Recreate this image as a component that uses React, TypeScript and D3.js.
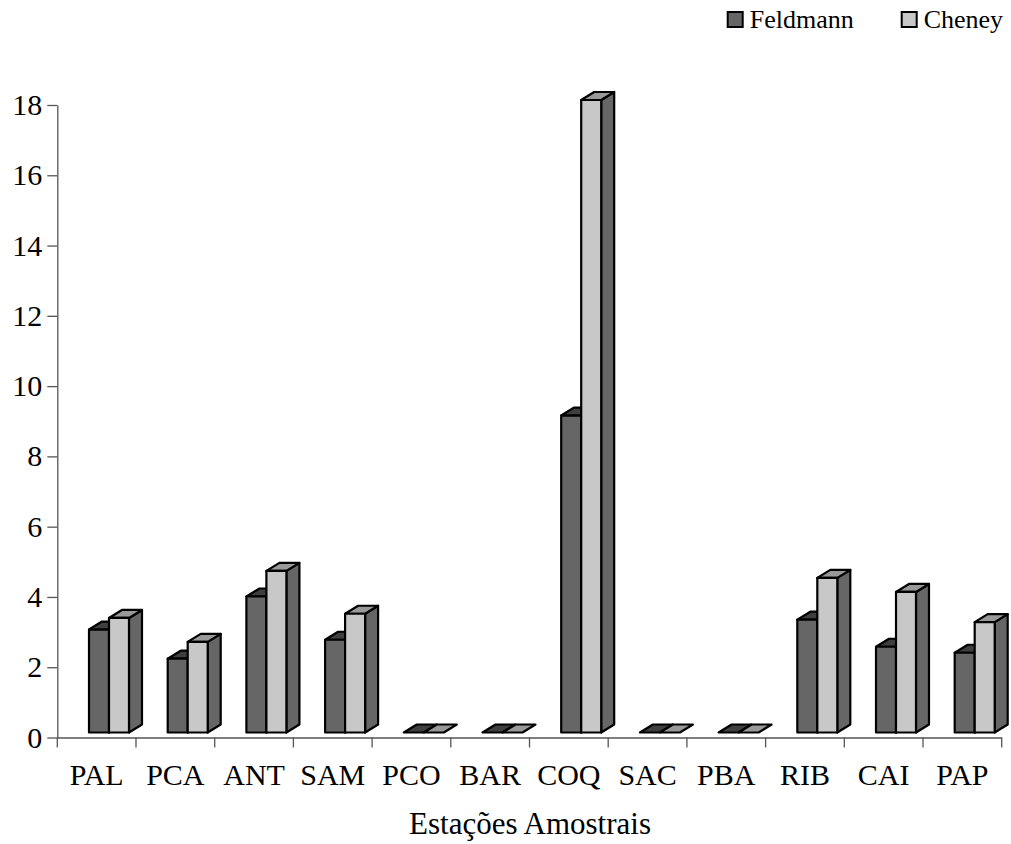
import React, { useEffect, useRef } from 'react';
import * as d3 from 'd3';

// chart data
const stations = ['PAL', 'PCA', 'ANT', 'SAM', 'PCO', 'BAR', 'COQ', 'SAC', 'PBA', 'RIB', 'CAI', 'PAP'];
const seriesNames = ['Feldmann', 'Cheney'];
const feldmann = [2.93, 2.1, 3.87, 2.64, 0, 0, 9.02, 0, 0, 3.21, 2.44, 2.27];
const cheney = [3.26, 2.58, 4.6, 3.38, 0, 0, 18.0, 0, 0, 4.4, 4.0, 3.14];
const yTicks = [0, 2, 4, 6, 8, 10, 12, 14, 16, 18];
const xTitle = 'Estações Amostrais';

const W = 1011;
const H = 844;
const FONT = "'Liberation Serif', 'Times New Roman', Times, serif";

// face colours per series: front, side, top
const faces = [
  { front: '#666666', side: '#666666', top: '#3f3f3f' },
  { front: '#c8c8c8', side: '#666666', top: '#999999' },
];

const App = () => {
  const ref = useRef<SVGSVGElement>(null);

  useEffect(() => {
    const svg = d3.select(ref.current);
    svg.selectAll('*').remove();

    const left = 57.3;
    const right = 1001.7;
    const y0 = 737.5;
    const y18 = 105;

    const x = d3.scaleBand().domain(stations).range([left, right]).padding(0);
    const xs = d3.scaleBand().domain(seriesNames).range([31.7, 71.7]).padding(0);
    const y = d3.scaleLinear().domain([0, 18]).range([y0, y18]);

    // depth of the 3d effect
    const dx = 13;
    const dy = 8;
    const lift = 5; // bars sit slightly above the axis line

    const g = svg.append('g');

    // axes
    const yAxis = d3.axisLeft(y).tickValues(yTicks).tickSize(10).tickSizeOuter(0).tickFormat(d => d + '');
    const yg = g.append('g').attr('transform', `translate(${left},0)`).call(yAxis);
    yg.attr('font-family', null).attr('font-size', null);
    yg.select('.domain').attr('stroke', '#555').attr('stroke-width', 1.3);
    yg.selectAll('.tick line').attr('stroke', '#555').attr('stroke-width', 1.3);
    yg.selectAll('.tick text')
      .attr('x', -15)
      .style('font-family', FONT)
      .style('font-size', '30px')
      .attr('fill', '#000');

    const xAxis = d3.axisBottom(x).tickSize(0).tickSizeOuter(0);
    const xg = g.append('g').attr('transform', `translate(0,${y0})`).call(xAxis);
    xg.attr('font-family', null).attr('font-size', null);
    xg.select('.domain').attr('stroke', '#555').attr('stroke-width', 1.3);
    xg.selectAll('.tick text')
      .attr('y', 47)
      .attr('dy', 0)
      .style('font-family', FONT)
      .style('font-size', '30px')
      .attr('fill', '#000');

    // category separators
    const bounds = stations.map(s => x(s) as number).concat([right]);
    g.append('g')
      .selectAll('line')
      .data(bounds)
      .enter()
      .append('line')
      .attr('x1', d => d)
      .attr('x2', d => d)
      .attr('y1', y0)
      .attr('y2', y0 + 10)
      .attr('stroke', '#555')
      .attr('stroke-width', 1.3);

    // bars
    const bars = g.append('g');
    const pts = (p: number[][]) => p.map(q => q.join(',')).join(' ');
    const outline = (sel: any) =>
      sel.attr('stroke', '#000').attr('stroke-width', 2.2).attr('stroke-linejoin', 'round');

    stations.forEach((s, i) => {
      [feldmann[i], cheney[i]].forEach((v, k) => {
        const x0 = (x(s) as number) + (xs(seriesNames[k]) as number);
        const w = xs.bandwidth();
        const yb = y0 - lift;
        const yt = y(v) - lift;
        const col = faces[k];

        if (v > 0) {
          bars.append('polygon').attr('points', pts([
            [x0 + w, yt], [x0 + w + dx, yt - dy], [x0 + w + dx, yb - dy], [x0 + w, yb],
          ])).attr('fill', col.side).call(outline);
        }
        bars.append('polygon').attr('points', pts([
          [x0, yt], [x0 + dx, yt - dy], [x0 + w + dx, yt - dy], [x0 + w, yt],
        ])).attr('fill', col.top).call(outline);
        if (v > 0) {
          bars.append('rect')
            .attr('x', x0).attr('y', yt)
            .attr('width', w).attr('height', yb - yt)
            .attr('fill', col.front)
            .call(outline);
        }
      });
    });

    // x title
    svg.append('text')
      .attr('x', 530)
      .attr('y', 834)
      .attr('text-anchor', 'middle')
      .style('font-family', FONT)
      .style('font-size', '31px')
      .text(xTitle);

    // legend
    const legendX = [726.7, 900.7];
    const leg = svg.append('g');
    seriesNames.forEach((name, k) => {
      leg.append('rect')
        .attr('x', legendX[k] + 1)
        .attr('y', 12)
        .attr('width', 15)
        .attr('height', 15)
        .attr('fill', faces[k].front)
        .attr('stroke', '#000')
        .attr('stroke-width', 2);
      leg.append('text')
        .attr('x', legendX[k] + 23)
        .attr('y', 28.3)
        .style('font-family', FONT)
        .style('font-size', '26px')
        .text(name);
    });
  }, []);

  return (
    <svg
      ref={ref}
      width={W}
      height={H}
      style={{ position: 'absolute', left: 0, top: 0, background: '#fff', fontFamily: FONT }}
    />
  );
};

export default App;
